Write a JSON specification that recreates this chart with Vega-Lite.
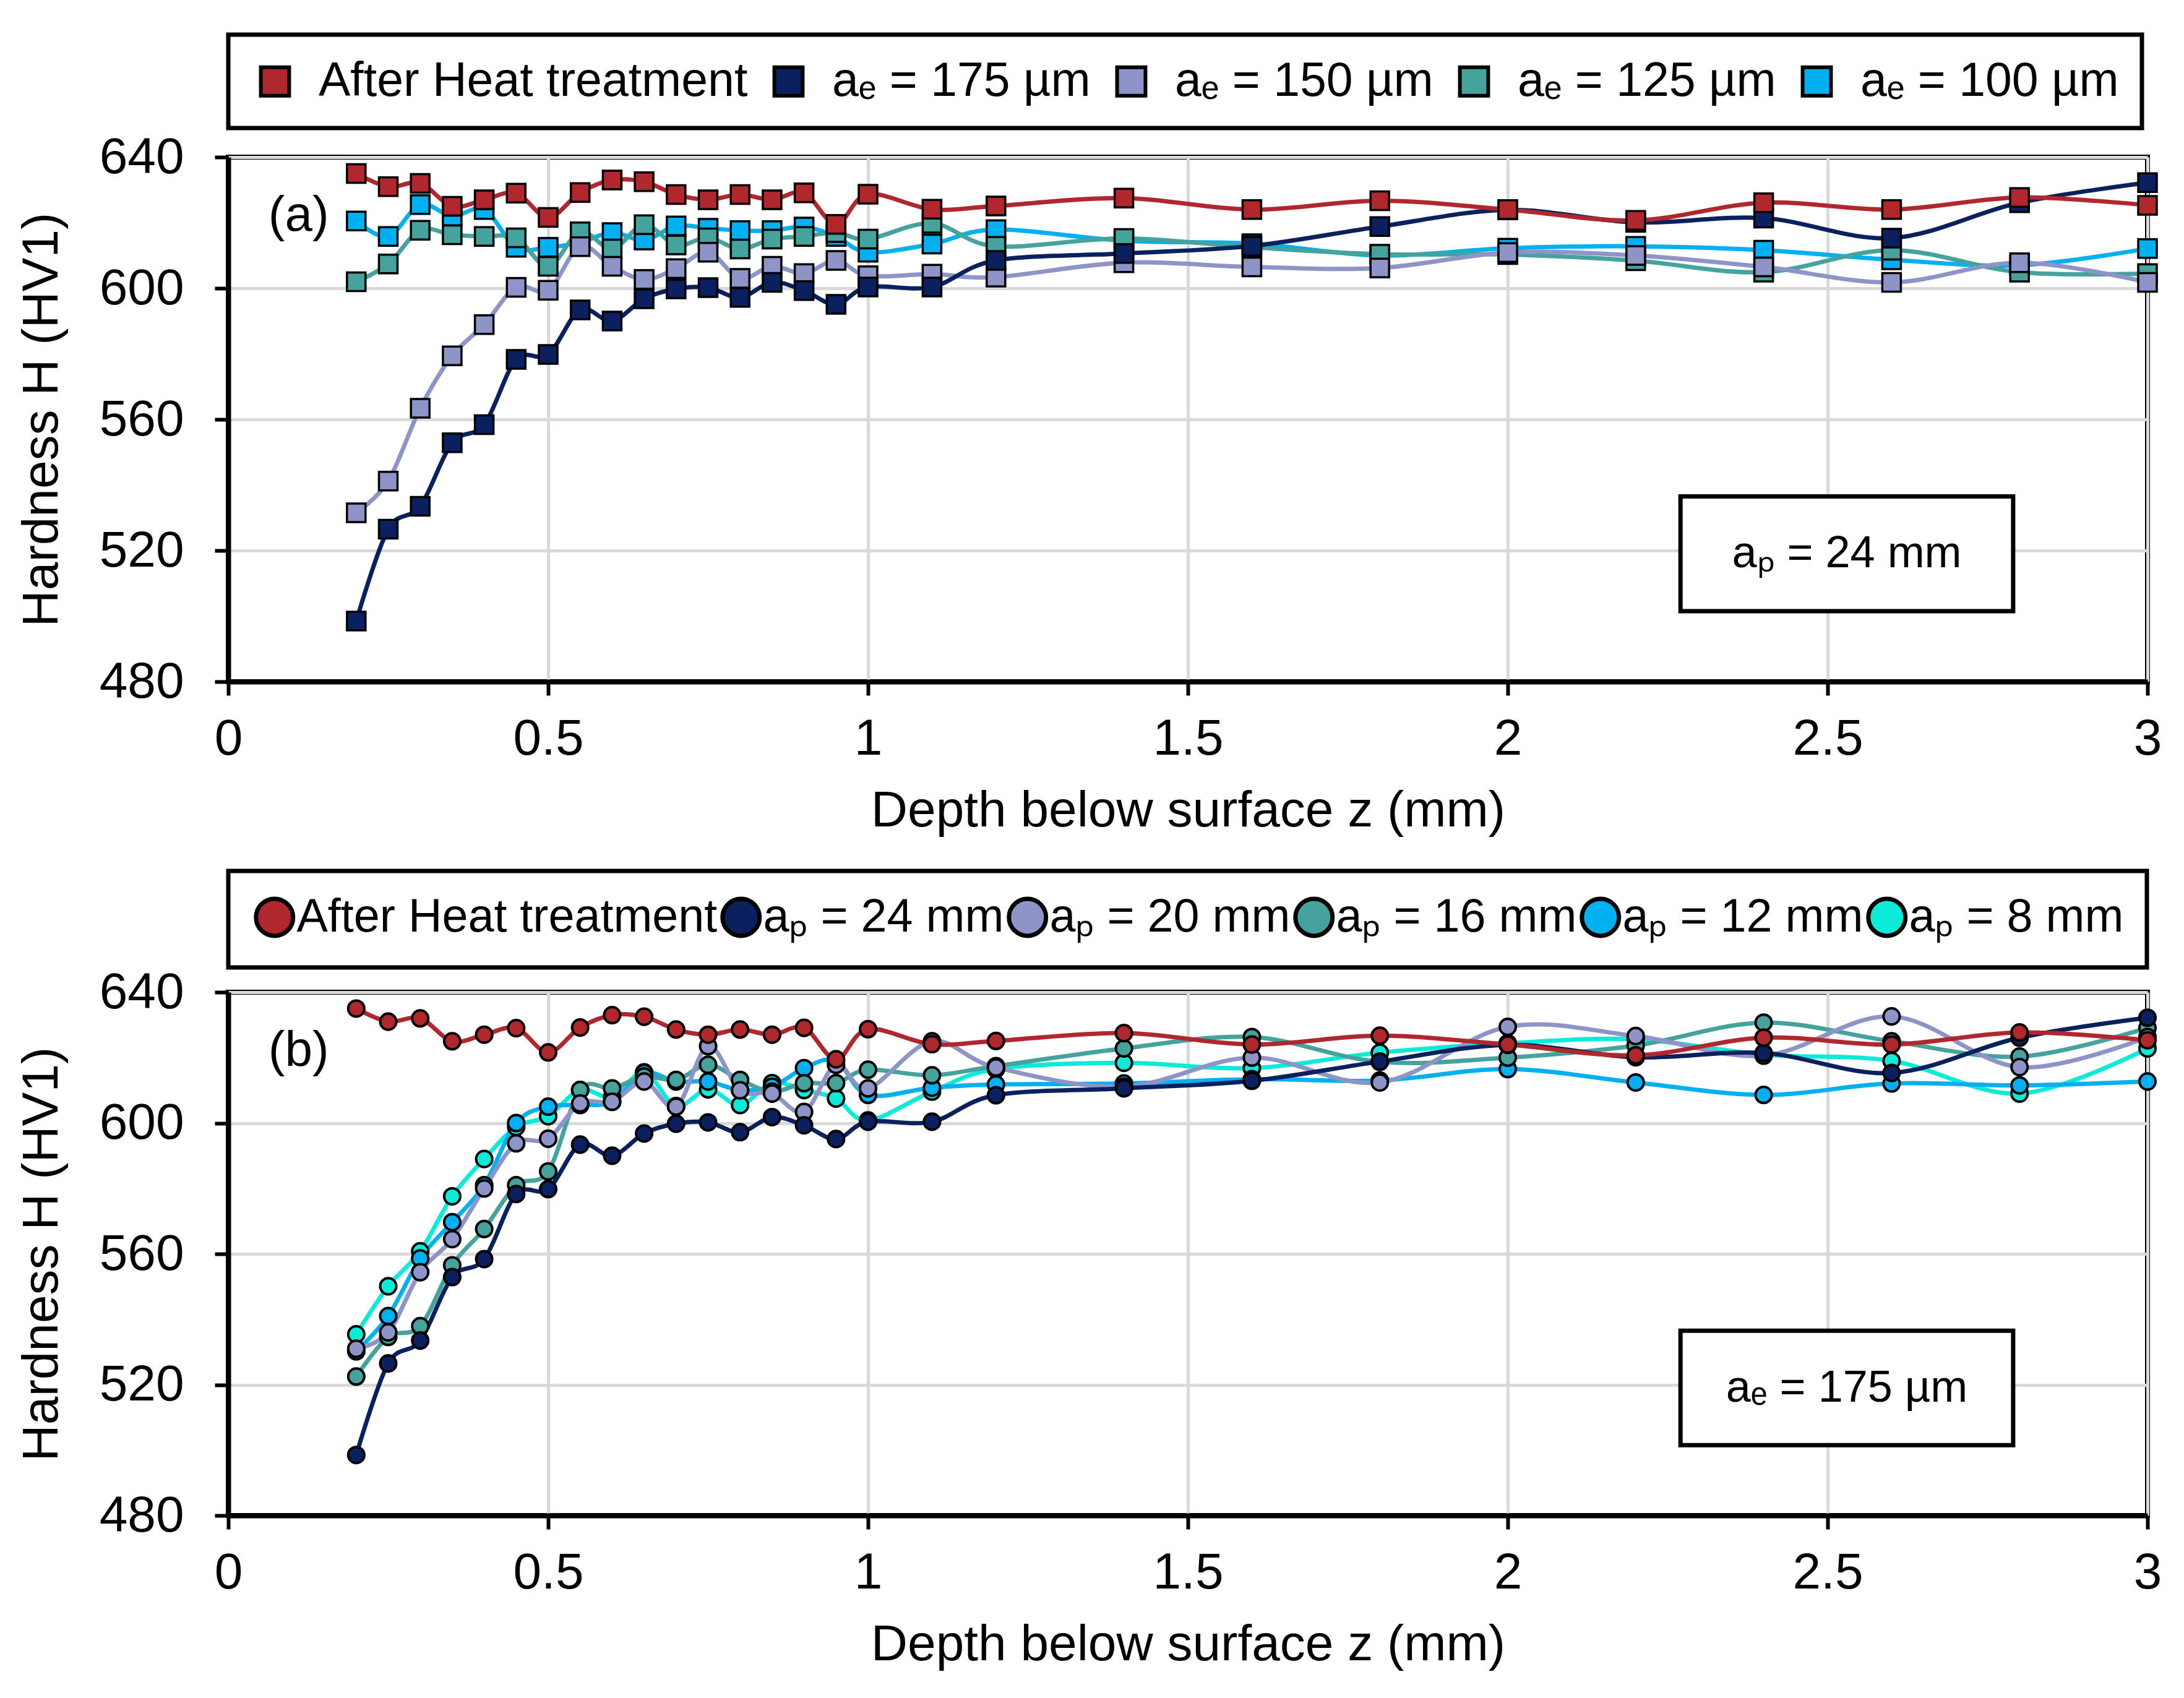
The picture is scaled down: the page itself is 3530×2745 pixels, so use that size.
{
  "$schema": "https://vega.github.io/schema/vega-lite/v6.json",
  "background": "white",
  "padding": {"left": 22, "top": 48, "right": 10, "bottom": 10},
  "datasets": {
    "hardA": [
      {"series": "aₑ = 100 µm", "z": 0.2, "H": 620.5}, {"series": "aₑ = 100 µm", "z": 0.25, "H": 615.8}, {"series": "aₑ = 100 µm", "z": 0.3, "H": 625.5}, {"series": "aₑ = 100 µm", "z": 0.35, "H": 622}, {"series": "aₑ = 100 µm", "z": 0.4, "H": 624}, {"series": "aₑ = 100 µm", "z": 0.45, "H": 612.5}, {"series": "aₑ = 100 µm", "z": 0.5, "H": 612.5}, {"series": "aₑ = 100 µm", "z": 0.55, "H": 614}, {"series": "aₑ = 100 µm", "z": 0.6, "H": 617}, {"series": "aₑ = 100 µm", "z": 0.65, "H": 614.7}, {"series": "aₑ = 100 µm", "z": 0.7, "H": 619}, {"series": "aₑ = 100 µm", "z": 0.75, "H": 618.3}, {"series": "aₑ = 100 µm", "z": 0.8, "H": 617.6}, {"series": "aₑ = 100 µm", "z": 0.85, "H": 617.6}, {"series": "aₑ = 100 µm", "z": 0.9, "H": 618.7}, {"series": "aₑ = 100 µm", "z": 0.95, "H": 615.8}, {"series": "aₑ = 100 µm", "z": 1, "H": 611}, {"series": "aₑ = 100 µm", "z": 1.1, "H": 613.5}, {"series": "aₑ = 100 µm", "z": 1.2, "H": 617.9}, {"series": "aₑ = 100 µm", "z": 1.4, "H": 614.5}, {"series": "aₑ = 100 µm", "z": 1.6, "H": 613.6}, {"series": "aₑ = 100 µm", "z": 1.8, "H": 610}, {"series": "aₑ = 100 µm", "z": 2, "H": 612.2}, {"series": "aₑ = 100 µm", "z": 2.2, "H": 612.8}, {"series": "aₑ = 100 µm", "z": 2.4, "H": 611.6}, {"series": "aₑ = 100 µm", "z": 2.6, "H": 608.7}, {"series": "aₑ = 100 µm", "z": 2.8, "H": 607}, {"series": "aₑ = 100 µm", "z": 3, "H": 612.1},
      {"series": "aₑ = 125 µm", "z": 0.2, "H": 602}, {"series": "aₑ = 125 µm", "z": 0.25, "H": 607.4}, {"series": "aₑ = 125 µm", "z": 0.3, "H": 617.7}, {"series": "aₑ = 125 µm", "z": 0.35, "H": 616.3}, {"series": "aₑ = 125 µm", "z": 0.4, "H": 615.8}, {"series": "aₑ = 125 µm", "z": 0.45, "H": 615.4}, {"series": "aₑ = 125 µm", "z": 0.5, "H": 606.7}, {"series": "aₑ = 125 µm", "z": 0.55, "H": 617.2}, {"series": "aₑ = 125 µm", "z": 0.6, "H": 612}, {"series": "aₑ = 125 µm", "z": 0.65, "H": 619.4}, {"series": "aₑ = 125 µm", "z": 0.7, "H": 613.2}, {"series": "aₑ = 125 µm", "z": 0.75, "H": 615.4}, {"series": "aₑ = 125 µm", "z": 0.8, "H": 612}, {"series": "aₑ = 125 µm", "z": 0.85, "H": 615}, {"series": "aₑ = 125 µm", "z": 0.9, "H": 615.8}, {"series": "aₑ = 125 µm", "z": 0.95, "H": 617}, {"series": "aₑ = 125 µm", "z": 1, "H": 615}, {"series": "aₑ = 125 µm", "z": 1.1, "H": 619.8}, {"series": "aₑ = 125 µm", "z": 1.2, "H": 612.8}, {"series": "aₑ = 125 µm", "z": 1.4, "H": 615.2}, {"series": "aₑ = 125 µm", "z": 1.6, "H": 612.5}, {"series": "aₑ = 125 µm", "z": 1.8, "H": 610.4}, {"series": "aₑ = 125 µm", "z": 2, "H": 610.3}, {"series": "aₑ = 125 µm", "z": 2.2, "H": 608.4}, {"series": "aₑ = 125 µm", "z": 2.4, "H": 604.9}, {"series": "aₑ = 125 µm", "z": 2.6, "H": 611.6}, {"series": "aₑ = 125 µm", "z": 2.8, "H": 604.9}, {"series": "aₑ = 125 µm", "z": 3, "H": 604.5},
      {"series": "aₑ = 150 µm", "z": 0.2, "H": 531.5}, {"series": "aₑ = 150 µm", "z": 0.25, "H": 541.2}, {"series": "aₑ = 150 µm", "z": 0.3, "H": 563.4}, {"series": "aₑ = 150 µm", "z": 0.35, "H": 579.4}, {"series": "aₑ = 150 µm", "z": 0.4, "H": 588.9}, {"series": "aₑ = 150 µm", "z": 0.45, "H": 600.3}, {"series": "aₑ = 150 µm", "z": 0.5, "H": 599.4}, {"series": "aₑ = 150 µm", "z": 0.55, "H": 612.7}, {"series": "aₑ = 150 µm", "z": 0.6, "H": 606.7}, {"series": "aₑ = 150 µm", "z": 0.65, "H": 602.7}, {"series": "aₑ = 150 µm", "z": 0.7, "H": 606}, {"series": "aₑ = 150 µm", "z": 0.75, "H": 611}, {"series": "aₑ = 150 µm", "z": 0.8, "H": 603}, {"series": "aₑ = 150 µm", "z": 0.85, "H": 606.7}, {"series": "aₑ = 150 µm", "z": 0.9, "H": 604.5}, {"series": "aₑ = 150 µm", "z": 0.95, "H": 608.5}, {"series": "aₑ = 150 µm", "z": 1, "H": 603.8}, {"series": "aₑ = 150 µm", "z": 1.1, "H": 604.3}, {"series": "aₑ = 150 µm", "z": 1.2, "H": 603.4}, {"series": "aₑ = 150 µm", "z": 1.4, "H": 607.8}, {"series": "aₑ = 150 µm", "z": 1.6, "H": 606.5}, {"series": "aₑ = 150 µm", "z": 1.8, "H": 606.2}, {"series": "aₑ = 150 µm", "z": 2, "H": 610.9}, {"series": "aₑ = 150 µm", "z": 2.2, "H": 610}, {"series": "aₑ = 150 µm", "z": 2.4, "H": 606.5}, {"series": "aₑ = 150 µm", "z": 2.6, "H": 601.8}, {"series": "aₑ = 150 µm", "z": 2.8, "H": 607.8}, {"series": "aₑ = 150 µm", "z": 3, "H": 601.8},
      {"series": "aₑ = 175 µm", "z": 0.2, "H": 498.5}, {"series": "aₑ = 175 µm", "z": 0.25, "H": 526.5}, {"series": "aₑ = 175 µm", "z": 0.3, "H": 533.5}, {"series": "aₑ = 175 µm", "z": 0.35, "H": 552.9}, {"series": "aₑ = 175 µm", "z": 0.4, "H": 558.4}, {"series": "aₑ = 175 µm", "z": 0.45, "H": 578.3}, {"series": "aₑ = 175 µm", "z": 0.5, "H": 579.8}, {"series": "aₑ = 175 µm", "z": 0.55, "H": 593.4}, {"series": "aₑ = 175 µm", "z": 0.6, "H": 590}, {"series": "aₑ = 175 µm", "z": 0.65, "H": 596.8}, {"series": "aₑ = 175 µm", "z": 0.7, "H": 599.8}, {"series": "aₑ = 175 µm", "z": 0.75, "H": 600.2}, {"series": "aₑ = 175 µm", "z": 0.8, "H": 597.2}, {"series": "aₑ = 175 µm", "z": 0.85, "H": 601.8}, {"series": "aₑ = 175 µm", "z": 0.9, "H": 599.3}, {"series": "aₑ = 175 µm", "z": 0.95, "H": 595.1}, {"series": "aₑ = 175 µm", "z": 1, "H": 600.4}, {"series": "aₑ = 175 µm", "z": 1.1, "H": 600.4}, {"series": "aₑ = 175 µm", "z": 1.2, "H": 608.5}, {"series": "aₑ = 175 µm", "z": 1.4, "H": 610.6}, {"series": "aₑ = 175 µm", "z": 1.6, "H": 612.9}, {"series": "aₑ = 175 µm", "z": 1.8, "H": 618.8}, {"series": "aₑ = 175 µm", "z": 2, "H": 623.9}, {"series": "aₑ = 175 µm", "z": 2.2, "H": 620.1}, {"series": "aₑ = 175 µm", "z": 2.4, "H": 621.4}, {"series": "aₑ = 175 µm", "z": 2.6, "H": 615.3}, {"series": "aₑ = 175 µm", "z": 2.8, "H": 626.1}, {"series": "aₑ = 175 µm", "z": 3, "H": 632.2},
      {"series": "After Heat treatment", "z": 0.2, "H": 635}, {"series": "After Heat treatment", "z": 0.25, "H": 631}, {"series": "After Heat treatment", "z": 0.3, "H": 632}, {"series": "After Heat treatment", "z": 0.35, "H": 625}, {"series": "After Heat treatment", "z": 0.4, "H": 627}, {"series": "After Heat treatment", "z": 0.45, "H": 629}, {"series": "After Heat treatment", "z": 0.5, "H": 621.6}, {"series": "After Heat treatment", "z": 0.55, "H": 629.2}, {"series": "After Heat treatment", "z": 0.6, "H": 633}, {"series": "After Heat treatment", "z": 0.65, "H": 632.5}, {"series": "After Heat treatment", "z": 0.7, "H": 628.6}, {"series": "After Heat treatment", "z": 0.75, "H": 627}, {"series": "After Heat treatment", "z": 0.8, "H": 628.6}, {"series": "After Heat treatment", "z": 0.85, "H": 627}, {"series": "After Heat treatment", "z": 0.9, "H": 629.1}, {"series": "After Heat treatment", "z": 0.95, "H": 619.5}, {"series": "After Heat treatment", "z": 1, "H": 628.7}, {"series": "After Heat treatment", "z": 1.1, "H": 624.1}, {"series": "After Heat treatment", "z": 1.2, "H": 625.1}, {"series": "After Heat treatment", "z": 1.4, "H": 627.5}, {"series": "After Heat treatment", "z": 1.6, "H": 624}, {"series": "After Heat treatment", "z": 1.8, "H": 626.7}, {"series": "After Heat treatment", "z": 2, "H": 624}, {"series": "After Heat treatment", "z": 2.2, "H": 620.7}, {"series": "After Heat treatment", "z": 2.4, "H": 626.1}, {"series": "After Heat treatment", "z": 2.6, "H": 624}, {"series": "After Heat treatment", "z": 2.8, "H": 627.7}, {"series": "After Heat treatment", "z": 3, "H": 625.3}
    ],
    "hardB": [
      {"series": "aₚ = 8 mm", "z": 0.2, "H": 535.4}, {"series": "aₚ = 8 mm", "z": 0.25, "H": 550.1}, {"series": "aₚ = 8 mm", "z": 0.3, "H": 560.8}, {"series": "aₚ = 8 mm", "z": 0.35, "H": 577.6}, {"series": "aₚ = 8 mm", "z": 0.4, "H": 589}, {"series": "aₚ = 8 mm", "z": 0.45, "H": 598.8}, {"series": "aₚ = 8 mm", "z": 0.5, "H": 602.1}, {"series": "aₚ = 8 mm", "z": 0.55, "H": 610.1}, {"series": "aₚ = 8 mm", "z": 0.6, "H": 608}, {"series": "aₚ = 8 mm", "z": 0.65, "H": 615.5}, {"series": "aₚ = 8 mm", "z": 0.7, "H": 605.2}, {"series": "aₚ = 8 mm", "z": 0.75, "H": 610.3}, {"series": "aₚ = 8 mm", "z": 0.8, "H": 605.5}, {"series": "aₚ = 8 mm", "z": 0.85, "H": 612.2}, {"series": "aₚ = 8 mm", "z": 0.9, "H": 610.1}, {"series": "aₚ = 8 mm", "z": 0.95, "H": 607.5}, {"series": "aₚ = 8 mm", "z": 1, "H": 600.8}, {"series": "aₚ = 8 mm", "z": 1.1, "H": 609.6}, {"series": "aₚ = 8 mm", "z": 1.2, "H": 616.5}, {"series": "aₚ = 8 mm", "z": 1.4, "H": 618.4}, {"series": "aₚ = 8 mm", "z": 1.6, "H": 616.8}, {"series": "aₚ = 8 mm", "z": 1.8, "H": 621.5}, {"series": "aₚ = 8 mm", "z": 2, "H": 624.4}, {"series": "aₚ = 8 mm", "z": 2.2, "H": 625.6}, {"series": "aₚ = 8 mm", "z": 2.4, "H": 620.9}, {"series": "aₚ = 8 mm", "z": 2.6, "H": 619}, {"series": "aₚ = 8 mm", "z": 2.8, "H": 609}, {"series": "aₚ = 8 mm", "z": 3, "H": 622.8},
      {"series": "aₚ = 12 mm", "z": 0.2, "H": 530.2}, {"series": "aₚ = 12 mm", "z": 0.25, "H": 541}, {"series": "aₚ = 12 mm", "z": 0.3, "H": 558.6}, {"series": "aₚ = 12 mm", "z": 0.35, "H": 569.7}, {"series": "aₚ = 12 mm", "z": 0.4, "H": 581}, {"series": "aₚ = 12 mm", "z": 0.45, "H": 600}, {"series": "aₚ = 12 mm", "z": 0.5, "H": 605}, {"series": "aₚ = 12 mm", "z": 0.55, "H": 605.5}, {"series": "aₚ = 12 mm", "z": 0.6, "H": 606.5}, {"series": "aₚ = 12 mm", "z": 0.65, "H": 615.3}, {"series": "aₚ = 12 mm", "z": 0.7, "H": 612.7}, {"series": "aₚ = 12 mm", "z": 0.75, "H": 612.7}, {"series": "aₚ = 12 mm", "z": 0.8, "H": 610.1}, {"series": "aₚ = 12 mm", "z": 0.85, "H": 611.1}, {"series": "aₚ = 12 mm", "z": 0.9, "H": 616.8}, {"series": "aₚ = 12 mm", "z": 0.95, "H": 619}, {"series": "aₚ = 12 mm", "z": 1, "H": 608.6}, {"series": "aₚ = 12 mm", "z": 1.1, "H": 610.8}, {"series": "aₚ = 12 mm", "z": 1.2, "H": 611.8}, {"series": "aₚ = 12 mm", "z": 1.4, "H": 612.1}, {"series": "aₚ = 12 mm", "z": 1.6, "H": 613.4}, {"series": "aₚ = 12 mm", "z": 1.8, "H": 613}, {"series": "aₚ = 12 mm", "z": 2, "H": 616.5}, {"series": "aₚ = 12 mm", "z": 2.2, "H": 612.4}, {"series": "aₚ = 12 mm", "z": 2.4, "H": 608.6}, {"series": "aₚ = 12 mm", "z": 2.6, "H": 612.1}, {"series": "aₚ = 12 mm", "z": 2.8, "H": 611.5}, {"series": "aₚ = 12 mm", "z": 3, "H": 612.7},
      {"series": "aₚ = 16 mm", "z": 0.2, "H": 522.5}, {"series": "aₚ = 16 mm", "z": 0.25, "H": 534.6}, {"series": "aₚ = 16 mm", "z": 0.3, "H": 537.9}, {"series": "aₚ = 16 mm", "z": 0.35, "H": 556.5}, {"series": "aₚ = 16 mm", "z": 0.4, "H": 567.6}, {"series": "aₚ = 16 mm", "z": 0.45, "H": 581}, {"series": "aₚ = 16 mm", "z": 0.5, "H": 585.2}, {"series": "aₚ = 16 mm", "z": 0.55, "H": 610.1}, {"series": "aₚ = 16 mm", "z": 0.6, "H": 610.6}, {"series": "aₚ = 16 mm", "z": 0.65, "H": 614.2}, {"series": "aₚ = 16 mm", "z": 0.7, "H": 613.2}, {"series": "aₚ = 16 mm", "z": 0.75, "H": 617.8}, {"series": "aₚ = 16 mm", "z": 0.8, "H": 613.2}, {"series": "aₚ = 16 mm", "z": 0.85, "H": 609.6}, {"series": "aₚ = 16 mm", "z": 0.9, "H": 612.2}, {"series": "aₚ = 16 mm", "z": 0.95, "H": 612.2}, {"series": "aₚ = 16 mm", "z": 1, "H": 616.3}, {"series": "aₚ = 16 mm", "z": 1.1, "H": 614.6}, {"series": "aₚ = 16 mm", "z": 1.2, "H": 617.4}, {"series": "aₚ = 16 mm", "z": 1.4, "H": 622.8}, {"series": "aₚ = 16 mm", "z": 1.6, "H": 626.3}, {"series": "aₚ = 16 mm", "z": 1.8, "H": 618.7}, {"series": "aₚ = 16 mm", "z": 2, "H": 620}, {"series": "aₚ = 16 mm", "z": 2.2, "H": 623.7}, {"series": "aₚ = 16 mm", "z": 2.4, "H": 630.7}, {"series": "aₚ = 16 mm", "z": 2.6, "H": 625}, {"series": "aₚ = 16 mm", "z": 2.8, "H": 620.3}, {"series": "aₚ = 16 mm", "z": 3, "H": 629.1},
      {"series": "aₚ = 20 mm", "z": 0.2, "H": 531}, {"series": "aₚ = 20 mm", "z": 0.25, "H": 536}, {"series": "aₚ = 20 mm", "z": 0.3, "H": 554.4}, {"series": "aₚ = 20 mm", "z": 0.35, "H": 564.5}, {"series": "aₚ = 20 mm", "z": 0.4, "H": 580}, {"series": "aₚ = 20 mm", "z": 0.45, "H": 593.8}, {"series": "aₚ = 20 mm", "z": 0.5, "H": 595.2}, {"series": "aₚ = 20 mm", "z": 0.55, "H": 606}, {"series": "aₚ = 20 mm", "z": 0.6, "H": 606.5}, {"series": "aₚ = 20 mm", "z": 0.65, "H": 612.7}, {"series": "aₚ = 20 mm", "z": 0.7, "H": 605}, {"series": "aₚ = 20 mm", "z": 0.75, "H": 623.5}, {"series": "aₚ = 20 mm", "z": 0.8, "H": 610}, {"series": "aₚ = 20 mm", "z": 0.85, "H": 609}, {"series": "aₚ = 20 mm", "z": 0.9, "H": 603.4}, {"series": "aₚ = 20 mm", "z": 0.95, "H": 617.8}, {"series": "aₚ = 20 mm", "z": 1, "H": 610.6}, {"series": "aₚ = 20 mm", "z": 1.1, "H": 625}, {"series": "aₚ = 20 mm", "z": 1.2, "H": 617}, {"series": "aₚ = 20 mm", "z": 1.4, "H": 611.1}, {"series": "aₚ = 20 mm", "z": 1.6, "H": 620}, {"series": "aₚ = 20 mm", "z": 1.8, "H": 612.4}, {"series": "aₚ = 20 mm", "z": 2, "H": 629.4}, {"series": "aₚ = 20 mm", "z": 2.2, "H": 626.6}, {"series": "aₚ = 20 mm", "z": 2.4, "H": 620.6}, {"series": "aₚ = 20 mm", "z": 2.6, "H": 632.6}, {"series": "aₚ = 20 mm", "z": 2.8, "H": 617.1}, {"series": "aₚ = 20 mm", "z": 3, "H": 626.3},
      {"series": "aₚ = 24 mm", "z": 0.2, "H": 498.5}, {"series": "aₚ = 24 mm", "z": 0.25, "H": 526.5}, {"series": "aₚ = 24 mm", "z": 0.3, "H": 533.5}, {"series": "aₚ = 24 mm", "z": 0.35, "H": 552.9}, {"series": "aₚ = 24 mm", "z": 0.4, "H": 558.4}, {"series": "aₚ = 24 mm", "z": 0.45, "H": 578.3}, {"series": "aₚ = 24 mm", "z": 0.5, "H": 579.8}, {"series": "aₚ = 24 mm", "z": 0.55, "H": 593.4}, {"series": "aₚ = 24 mm", "z": 0.6, "H": 590}, {"series": "aₚ = 24 mm", "z": 0.65, "H": 596.8}, {"series": "aₚ = 24 mm", "z": 0.7, "H": 599.8}, {"series": "aₚ = 24 mm", "z": 0.75, "H": 600.2}, {"series": "aₚ = 24 mm", "z": 0.8, "H": 597.2}, {"series": "aₚ = 24 mm", "z": 0.85, "H": 601.8}, {"series": "aₚ = 24 mm", "z": 0.9, "H": 599.3}, {"series": "aₚ = 24 mm", "z": 0.95, "H": 595.1}, {"series": "aₚ = 24 mm", "z": 1, "H": 600.4}, {"series": "aₚ = 24 mm", "z": 1.1, "H": 600.4}, {"series": "aₚ = 24 mm", "z": 1.2, "H": 608.5}, {"series": "aₚ = 24 mm", "z": 1.4, "H": 610.6}, {"series": "aₚ = 24 mm", "z": 1.6, "H": 612.9}, {"series": "aₚ = 24 mm", "z": 1.8, "H": 618.8}, {"series": "aₚ = 24 mm", "z": 2, "H": 623.9}, {"series": "aₚ = 24 mm", "z": 2.2, "H": 620.1}, {"series": "aₚ = 24 mm", "z": 2.4, "H": 621.4}, {"series": "aₚ = 24 mm", "z": 2.6, "H": 615.3}, {"series": "aₚ = 24 mm", "z": 2.8, "H": 626.1}, {"series": "aₚ = 24 mm", "z": 3, "H": 632.2},
      {"series": "After Heat treatment", "z": 0.2, "H": 635}, {"series": "After Heat treatment", "z": 0.25, "H": 631}, {"series": "After Heat treatment", "z": 0.3, "H": 632}, {"series": "After Heat treatment", "z": 0.35, "H": 625}, {"series": "After Heat treatment", "z": 0.4, "H": 627}, {"series": "After Heat treatment", "z": 0.45, "H": 629}, {"series": "After Heat treatment", "z": 0.5, "H": 621.6}, {"series": "After Heat treatment", "z": 0.55, "H": 629.2}, {"series": "After Heat treatment", "z": 0.6, "H": 633}, {"series": "After Heat treatment", "z": 0.65, "H": 632.5}, {"series": "After Heat treatment", "z": 0.7, "H": 628.6}, {"series": "After Heat treatment", "z": 0.75, "H": 627}, {"series": "After Heat treatment", "z": 0.8, "H": 628.6}, {"series": "After Heat treatment", "z": 0.85, "H": 627}, {"series": "After Heat treatment", "z": 0.9, "H": 629.1}, {"series": "After Heat treatment", "z": 0.95, "H": 619.5}, {"series": "After Heat treatment", "z": 1, "H": 628.7}, {"series": "After Heat treatment", "z": 1.1, "H": 624.1}, {"series": "After Heat treatment", "z": 1.2, "H": 625.1}, {"series": "After Heat treatment", "z": 1.4, "H": 627.5}, {"series": "After Heat treatment", "z": 1.6, "H": 624}, {"series": "After Heat treatment", "z": 1.8, "H": 626.7}, {"series": "After Heat treatment", "z": 2, "H": 624}, {"series": "After Heat treatment", "z": 2.2, "H": 620.7}, {"series": "After Heat treatment", "z": 2.4, "H": 626.1}, {"series": "After Heat treatment", "z": 2.6, "H": 624}, {"series": "After Heat treatment", "z": 2.8, "H": 627.7}, {"series": "After Heat treatment", "z": 3, "H": 625.3}
    ]
  },
  "spacing": 45,
  "vconcat": [
    {
      "width": 3102,
      "height": 848,
      "data": {"name": "hardA"},
      "layer": [
        {
          "mark": {"type": "line", "interpolate": "cardinal", "strokeWidth": 7},
          "encoding": {
            "x": {"field": "z", "type": "quantitative", "scale": {"domain": [0, 3], "nice": false}, "axis": {"values": [0, 0.5, 1, 1.5, 2, 2.5, 3], "format": "~g", "title": "Depth below surface z (mm)"}},
            "y": {"field": "H", "type": "quantitative", "scale": {"domain": [480, 640], "nice": false}, "axis": {"values": [480, 520, 560, 600, 640], "title": "Hardness H (HV1)"}},
            "stroke": {"field": "series", "type": "nominal", "legend": null,
              "scale": {"domain": ["aₑ = 100 µm", "aₑ = 125 µm", "aₑ = 150 µm", "aₑ = 175 µm", "After Heat treatment"], "range": ["#00B0F0", "#46A29D", "#8F94C8", "#0B205E", "#B0272E"]}}
          }
        },
        {
          "mark": {"type": "point", "shape": "square", "filled": true, "size": 900, "stroke": "black", "strokeWidth": 3.5, "opacity": 1},
          "encoding": {
            "x": {"field": "z", "type": "quantitative"},
            "y": {"field": "H", "type": "quantitative"},
            "fill": {"field": "series", "type": "nominal",
              "scale": {"domain": ["After Heat treatment", "aₑ = 175 µm", "aₑ = 150 µm", "aₑ = 125 µm", "aₑ = 100 µm"], "range": ["#B0272E", "#0B205E", "#8F94C8", "#46A29D", "#00B0F0"]},
              "legend": {"title": null, "orient": "top", "offset": 47, "padding": 37, "symbolType": "square", "symbolSize": 2100, "symbolStrokeColor": "black", "symbolStrokeWidth": 6, "labelOffset": 32, "columnPadding": 27}}
          }
        },
        {
          "data": {"values": [{}]},
          "mark": {"type": "rect", "fill": "white", "stroke": "black", "strokeWidth": 7},
          "encoding": {"x": {"datum": 2.27}, "x2": {"datum": 2.79}, "y": {"datum": 501.5}, "y2": {"datum": 536.5}}
        },
        {
          "data": {"values": [{}]},
          "mark": {"type": "text", "fontSize": 72, "align": "center", "baseline": "middle"},
          "encoding": {"x": {"datum": 2.53}, "y": {"datum": 519}, "text": {"value": "aₚ = 24 mm"}}
        },
        {
          "data": {"values": [{}]},
          "mark": {"type": "text", "fontSize": 80, "align": "center", "baseline": "middle"},
          "encoding": {"x": {"datum": 0.11}, "y": {"datum": 622}, "text": {"value": "(a)"}}
        }
      ]
    },
    {
      "width": 3102,
      "height": 846,
      "data": {"name": "hardB"},
      "layer": [
        {
          "mark": {"type": "line", "interpolate": "cardinal", "strokeWidth": 7},
          "encoding": {
            "x": {"field": "z", "type": "quantitative", "scale": {"domain": [0, 3], "nice": false}, "axis": {"values": [0, 0.5, 1, 1.5, 2, 2.5, 3], "format": "~g", "title": "Depth below surface z (mm)"}},
            "y": {"field": "H", "type": "quantitative", "scale": {"domain": [480, 640], "nice": false}, "axis": {"values": [480, 520, 560, 600, 640], "title": "Hardness H (HV1)"}},
            "stroke": {"field": "series", "type": "nominal", "legend": null,
              "scale": {"domain": ["aₚ = 8 mm", "aₚ = 12 mm", "aₚ = 16 mm", "aₚ = 20 mm", "aₚ = 24 mm", "After Heat treatment"], "range": ["#0CEADA", "#00B0F0", "#46A29D", "#8F94C8", "#0B205E", "#B0272E"]}}
          }
        },
        {
          "mark": {"type": "point", "shape": "circle", "filled": true, "size": 680, "stroke": "black", "strokeWidth": 4, "opacity": 1},
          "encoding": {
            "x": {"field": "z", "type": "quantitative"},
            "y": {"field": "H", "type": "quantitative"},
            "fill": {"field": "series", "type": "nominal",
              "scale": {"domain": ["After Heat treatment", "aₚ = 24 mm", "aₚ = 20 mm", "aₚ = 16 mm", "aₚ = 12 mm", "aₚ = 8 mm"], "range": ["#B0272E", "#0B205E", "#8F94C8", "#46A29D", "#00B0F0", "#0CEADA"]},
              "legend": {"title": null, "orient": "top", "offset": 40, "padding": 37, "labelFontSize": 75.5, "symbolType": "circle", "symbolSize": 3600, "symbolStrokeColor": "black", "symbolStrokeWidth": 7, "labelOffset": -2, "columnPadding": -18}}
          }
        },
        {
          "data": {"values": [{}]},
          "mark": {"type": "rect", "fill": "white", "stroke": "black", "strokeWidth": 7},
          "encoding": {"x": {"datum": 2.27}, "x2": {"datum": 2.79}, "y": {"datum": 501.5}, "y2": {"datum": 536.5}}
        },
        {
          "data": {"values": [{}]},
          "mark": {"type": "text", "fontSize": 72, "align": "center", "baseline": "middle"},
          "encoding": {"x": {"datum": 2.53}, "y": {"datum": 519}, "text": {"value": "aₑ = 175 µm"}}
        },
        {
          "data": {"values": [{}]},
          "mark": {"type": "text", "fontSize": 80, "align": "center", "baseline": "middle"},
          "encoding": {"x": {"datum": 0.11}, "y": {"datum": 622}, "text": {"value": "(b)"}}
        }
      ]
    }
  ],
  "resolve": {"scale": {"fill": "independent", "stroke": "independent"}, "legend": {"fill": "independent", "stroke": "independent"}},
  "config": {
    "font": "Liberation Sans",
    "view": {"stroke": "black", "strokeWidth": 8},
    "text": {"font": "Liberation Sans", "color": "black"},
    "axis": {
      "labelFont": "Liberation Sans", "titleFont": "Liberation Sans",
      "labelFontSize": 82, "titleFontSize": 82, "titleFontWeight": "normal",
      "labelColor": "black", "titleColor": "black",
      "domainColor": "black", "domainWidth": 8,
      "tickColor": "black", "tickWidth": 6, "tickSize": 22,
      "gridColor": "#d9d9d9", "gridWidth": 5
    },
    "axisX": {"labelPadding": 30, "titlePadding": 35, "labelFlush": false},
    "axisY": {"labelPadding": 50, "titlePadding": 60},
    "legend": {"labelFont": "Liberation Sans", "labelFontSize": 77, "labelColor": "black", "labelLimit": 1500, "strokeColor": "black", "strokeWidth": 7}
  }
}
